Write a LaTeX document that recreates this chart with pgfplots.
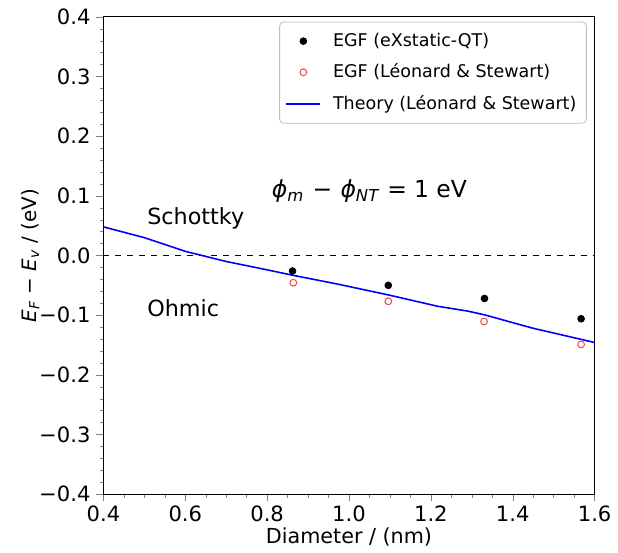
\documentclass[border=0pt]{standalone}
\usepackage{pgfplots}
\pgfplotsset{compat=1.18}
\usepackage{fontspec}
\setmainfont{DejaVu Sans}
\begin{document}
\begin{tikzpicture}[x=1pt,y=1pt]
\begin{axis}[
  name=ax,
  scale only axis,
  width=247pt, height=240pt,
  xmin=0.4, xmax=1.6, ymin=-0.4, ymax=0.4,
  xtick={0.4,0.6,0.8,1.0,1.2,1.4,1.6},
  xticklabels={0.4,0.6,0.8,1.0,1.2,1.4,1.6},
  ytick={-0.4,-0.3,-0.2,-0.1,0,0.1,0.2,0.3,0.4},
  yticklabels={−0.4,−0.3,−0.2,−0.1,0.0,0.1,0.2,0.3,0.4},
  minor x tick num=3,
  minor y tick num=4,
  tick align=outside,
  major tick length=3.5pt,
  minor tick length=1.8pt,
  xtick pos=bottom, ytick pos=left,
  ticklabel style={font=\fontsize{10.6}{12}\selectfont},
  xticklabel style={yshift=1pt},
  yticklabel style={xshift=0.5pt},
  xlabel={Diameter / (nm)},
  ylabel={\textit{E}\textsubscript{\textit{F}} − \textit{E}\textsubscript{\textit{v}} / (eV)},
  xlabel style={font=\fontsize{10.4}{12}\selectfont, yshift=4pt},
  ylabel style={font=\fontsize{10}{12}\selectfont, yshift=-7pt},
  legend style={at={(0.984,0.99)}, anchor=north east, draw=black!25, rounded corners=2pt,
    font=\fontsize{8.8}{10}\selectfont, row sep=3.3pt, column sep=4pt, inner xsep=3pt, inner ysep=3.5pt},
  legend cell align=left,
  clip=false,
]
\addplot[black, dashed, line width=0.5pt, forget plot] coordinates {(0.4,0) (1.6,0)};
\addplot[only marks, mark=*, mark size=1.7pt, black] coordinates {
(0.862,-0.026) (1.096,-0.050) (1.331,-0.072) (1.567,-0.106)};
\addlegendentry{EGF (eXstatic-QT)}
\addplot[only marks, mark=o, mark size=1.7pt, red!75, line width=0.5pt] coordinates {
(0.864,-0.0456) (1.096,-0.0767) (1.330,-0.1106) (1.567,-0.149)};
\addlegendentry{EGF (Léonard \& Stewart)}
\addplot[blue, line width=0.8pt] coordinates {
(0.4,0.048) (0.5,0.030) (0.6,0.007) (0.7,-0.010) (0.8,-0.024) (0.862,-0.033)
(0.973,-0.048) (1.096,-0.066) (1.216,-0.085) (1.289,-0.093) (1.331,-0.0994)
(1.45,-0.122) (1.589,-0.144) (1.6,-0.146)};
\addlegendentry{Theory (Léonard \& Stewart)}
\node[anchor=west, font=\fontsize{11.2}{13}\selectfont] at (axis cs:0.49,0.062) {Schottky};
\node[anchor=west, font=\fontsize{11.2}{13}\selectfont] at (axis cs:0.49,-0.088) {Ohmic};
\node[font=\fontsize{11.8}{13}\selectfont] at (axis cs:1.05,0.108) {\textit{ϕ}\textsubscript{\textit{m}}\hspace{0.35em}−\hspace{0.35em}\textit{ϕ}\textsubscript{\textit{NT}}\hspace{0.3em}=\hspace{0.3em}1 eV};
\end{axis}
\path (ax.south west) ++(-52pt,-28.5pt) coordinate (bl);
\path (ax.north east) ++(10pt,8.5pt) coordinate (tr);
\path[use as bounding box] (bl) rectangle (tr);
\end{tikzpicture}
\end{document}
